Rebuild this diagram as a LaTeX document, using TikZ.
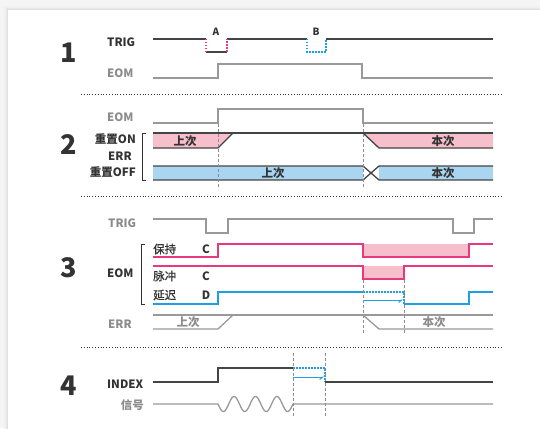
\documentclass[tikz,border=0pt]{standalone}
\usepackage{fontspec}
\setmainfont{Noto Sans CJK SC}
\usetikzlibrary{arrows.meta}
\definecolor{dk}{HTML}{333333}
\definecolor{ln}{HTML}{444444}
\definecolor{gr}{HTML}{8C8C8C}
\definecolor{gl}{HTML}{999999}
\definecolor{mg}{HTML}{E8387E}
\definecolor{pk}{HTML}{F7BFCC}
\definecolor{bl}{HTML}{1E9FE0}
\definecolor{lb}{HTML}{A9D5F1}
\begin{document}
\begin{tikzpicture}[x=1pt,y=-1pt,
 lbl/.style={font=\bfseries\fontsize{11.5}{12}\selectfont, text=dk, inner sep=0},
 glbl/.style={lbl,text=gr},
 nlbl/.style={font=\fontsize{11.5}{12}\selectfont\addfontfeature{FakeBold=0.8}, text=dk, inner sep=0},
 small/.style={font=\bfseries\fontsize{10}{10}\selectfont, text=dk, inner sep=0},
 num/.style={font=\bfseries\fontsize{27}{27}\selectfont,text=dk,inner sep=0},
 sig/.style={line width=1.3pt,draw=ln},
 gsig/.style={line width=1.3pt,draw=gl},
 msig/.style={line width=1.3pt,draw=mg},
 bsig/.style={line width=1.3pt,draw=bl},
 bdot/.style={line width=1.2pt,draw=bl,dash pattern=on 1.5pt off 1.5pt},
 mdot/.style={line width=1.2pt,draw=mg,dash pattern=on 1.5pt off 1.5pt},
 sep/.style={draw=dk, line width=0.7pt, dash pattern=on 0.8pt off 2pt},
 guide/.style={draw=gr, line width=0.8pt, dash pattern=on 3pt off 2pt},
 brk/.style={draw=dk, line width=0.9pt},
 arr/.style={line width=1pt,draw=bl,-{Straight Barb[right,length=3pt,width=5pt]}},
]
\useasboundingbox (0,0) rectangle (540,428);
% background card
\fill[black!4] (0,0) rectangle (540,428);
\fill[black!6] (4,6) rectangle (545,433);
\fill[black!9] (6,8) rectangle (545,433);
\fill[black!12] (7,9) rectangle (545,433);
\fill[white] (8,10) rectangle (545,433);

% ---------- section 1
\node[num] (n1) at (69,53) {1};
\node[lbl, anchor=west] (trig1) at (107,42) {TRIG};
\node[glbl, anchor=west] (eom1) at (107,73) {EOM};
\node[small] (lA) at (216,32) {A};
\node[small] (lB) at (316,32) {B};
\draw[sig] (153,39) -- (206,39);
\draw[sig] (206,52) -- (227,52);
\draw[sig] (227,39) -- (307,39);
\draw[sig] (326,39) -- (493,39);
\draw[mdot] (206,39) -- (206,52);
\draw[mdot] (227,52) -- (227,39);
\draw[bdot] (307,39) -- (307,52) -- (326,52) -- (326,39);
\draw[gsig] (153,78) -- (218,78) -- (218,64) -- (362,64) -- (362,78) -- (493,78);
\draw[sep] (81,94) -- (502,94);

% ---------- section 2
\node[num] (n2) at (69,145) {2};
\node[glbl, anchor=west] (eom2) at (107,117) {EOM};
\node[lbl, anchor=east] (ron) at (136,139) {重置ON};
\node[lbl, anchor=west] (err2) at (108,156) {ERR};
\node[lbl, anchor=east] (roff) at (136,172) {重置OFF};
\draw[brk] (146,133) -- (142,133) -- (142,180) -- (146,180);
\draw[gsig] (153,123) -- (218,123) -- (218,109) -- (363,109) -- (363,123) -- (493,123);
\fill[pk] (153,133) -- (233,133) -- (218,148) -- (153,148) -- cycle;
\fill[pk] (363,133) -- (493,133) -- (493,148) -- (379,148) -- cycle;
\draw[sig] (153,133) -- (493,133);
\draw[sig] (153,148) -- (218,148) -- (233,133);
\draw[sig] (363,133) -- (379,148) -- (493,148);
\fill[lb] (153,166) rectangle (363,180);
\fill[lb] (379,166) rectangle (493,180);
\draw[sig] (153,166) -- (363,166) -- (379,180) -- (493,180);
\draw[sig] (153,180) -- (363,180) -- (379,166) -- (493,166);
\node[lbl] (p1) at (185,141) {上次};
\node[lbl] (p2) at (443,141) {本次};
\node[lbl] (p3) at (273,173) {上次};
\node[lbl] (p4) at (443,173) {本次};
\draw[guide] (218,124) -- (218,188);
\draw[guide] (363,124) -- (363,188);
\draw[sep] (81,196) -- (502,196);

% ---------- section 3
\node[num] (n3) at (69,268) {3};
\node[glbl, anchor=west] (trig3) at (108,223) {TRIG};
\node[lbl, anchor=west] (eom3) at (107,273) {EOM};
\node[glbl, anchor=west] (err3) at (108,324) {ERR};
\draw[brk] (145,244) -- (141,244) -- (141,304) -- (145,304);
\draw[gsig] (153,219) -- (206,219) -- (206,233) -- (228,233) -- (228,219) -- (453,219) -- (453,233) -- (474,233) -- (474,219) -- (493,219);
\node[nlbl, anchor=west] (hold) at (153,249) {保持};
\node[nlbl, anchor=west] (pulse) at (153,276) {脉冲};
\node[nlbl, anchor=west] (delay) at (153,295) {延迟};
\node[lbl] (c1) at (206,249) {C};
\node[lbl] (c2) at (206,276) {C};
\node[lbl] (d1) at (206,295) {D};
\fill[pk] (363,244) rectangle (469,257);
\fill[pk] (363,266) rectangle (404,279);
\draw[msig] (153,257) -- (218,257) -- (218,244) -- (363,244) -- (363,257) -- (469,257) -- (469,244) -- (493,244);
\draw[msig] (153,266) -- (363,266) -- (363,279) -- (404,279) -- (404,266) -- (493,266);
\draw[bsig] (153,304) -- (218,304) -- (218,292) -- (363,292);
\draw[bdot] (363,292) -- (404,292) -- (404,304);
\draw[bsig] (404,304) -- (469,304) -- (469,292) -- (493,292);
\coordinate (a3s) at (364,300);
\coordinate (a3e) at (403,300);
\draw[arr] (a3s) -- (a3e);
\draw[guide] (363,280) -- (363,333);
\draw[guide] (404,280) -- (404,333);
\draw[gsig] (153,315) -- (493,315);
\draw[gsig] (153,329) -- (218,329) -- (233,315);
\draw[gsig] (363,315) -- (379,329) -- (493,329);
\node[glbl] (q1) at (188,322) {上次};
\node[glbl] (q2) at (434,322) {本次};
\draw[sep] (81,347) -- (502,347);

% ---------- section 4
\node[num] (n4) at (69,386) {4};
\node[lbl, anchor=west] (index) at (107,384) {INDEX};
\node[glbl, anchor=east] (sig4) at (144,405) {信号};
\draw[sig] (153,382) -- (218,382) -- (218,368) -- (293,368);
\draw[bdot] (293,368) -- (325,368) -- (325,382);
\draw[sig] (325,382) -- (493,382);
\coordinate (a4s) at (293,377);
\coordinate (a4e) at (324,377);
\draw[arr] (a4s) -- (a4e);
\draw[gsig] (153,404) -- (218,404) -- plot[domain=0:75,samples=120,smooth] ({218+\x},{404+7.5*sin(\x/75*3.5*360)}) -- (493,404);
\draw[guide] (293,353) -- (293,417);
\draw[guide] (325,353) -- (325,417);
\end{tikzpicture}
\end{document}
